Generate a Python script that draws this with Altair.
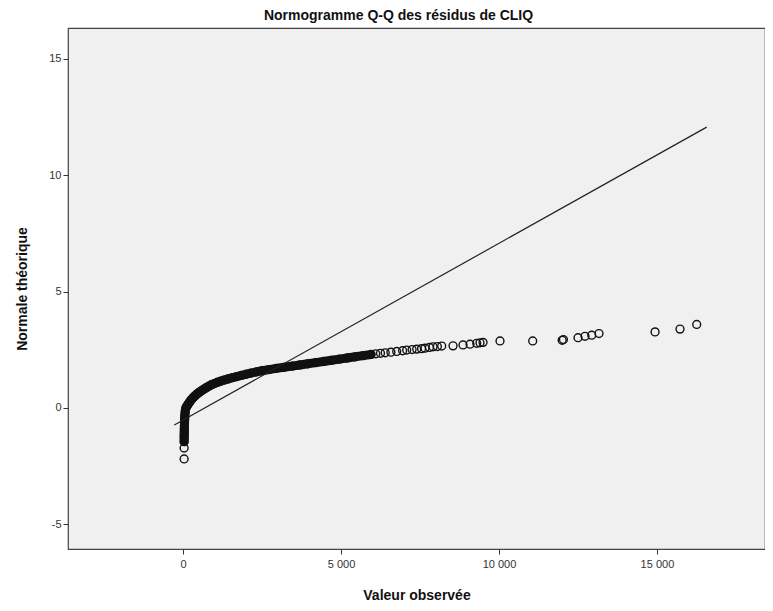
import altair as alt
import pandas as pd

# Dense part of the residual curve (observed value, theoretical normal)
band_obs = [35, 37, 38, 40, 42, 44, 47, 51, 56, 63, 72,
            90, 110, 130, 155, 180, 205, 230, 260, 290, 325, 360, 400, 440, 490,
            540, 595, 650, 710, 770, 835, 900, 990, 1080, 1190, 1300, 1430, 1560,
            1700, 1850, 2000, 2150, 2320, 2500, 2720, 2950, 3200, 3450, 3700,
            3950, 4200, 4450, 4700, 4950, 5200, 5450, 5700, 5950]
band_theo = [-1.45, -1.29, -1.16, -1.03, -0.90, -0.77, -0.64, -0.51, -0.38, -0.25, -0.12,
             0.00, 0.05, 0.10, 0.15, 0.20, 0.25, 0.30, 0.35, 0.40, 0.45, 0.50, 0.55, 0.60, 0.65,
             0.70, 0.75, 0.80, 0.85, 0.90, 0.95, 1.00, 1.05, 1.10, 1.15, 1.20, 1.25, 1.30,
             1.35, 1.40, 1.45, 1.50, 1.55, 1.60, 1.65, 1.70, 1.75, 1.80, 1.85,
             1.90, 1.95, 2.00, 2.05, 2.10, 2.15, 2.20, 2.25, 2.30]

# Separate points of the upper tail
tail_obs = [6100, 6250, 6400, 6580, 6764, 6950, 7080, 7250, 7397, 7550, 7659, 7800,
            7913, 8050, 8188, 8546, 8862, 9084, 9296, 9400, 9495, 10033, 11068,
            12000, 12040, 12502, 12723, 12936, 13166, 14940, 15730, 16259]
tail_theo = [2.33, 2.35, 2.37, 2.40, 2.43, 2.46, 2.49, 2.51, 2.53, 2.55, 2.57, 2.60,
             2.63, 2.64, 2.66, 2.67, 2.71, 2.74, 2.78, 2.80, 2.82, 2.88, 2.88,
             2.91, 2.94, 3.02, 3.08, 3.13, 3.20, 3.27, 3.39, 3.59]

# Lowest points
low_obs = [35, 35]
low_theo = [-1.72, -2.19]

# Reference line
fit_obs = [-275, 16575]
fit_theo = [-0.73, 12.07]

x_ticks = [0, 5000, 10000, 15000]
y_ticks = [-5, 0, 5, 10, 15]

band_df = pd.DataFrame({"obs": band_obs, "theo": band_theo})
pts_df = pd.DataFrame({"obs": band_obs + tail_obs + low_obs,
                       "theo": band_theo + tail_theo + low_theo})
fit_df = pd.DataFrame({"obs": fit_obs, "theo": fit_theo})

xs = alt.Scale(domain=[-3640, 18420], nice=False, zero=False)
ys = alt.Scale(domain=[-6.06, 16.33], nice=False, zero=False)

x_axis = alt.Axis(values=x_ticks, title="Valeur observée",
                  labelExpr="replace(format(datum.value, ','), ',', ' ')",
                  grid=False, domain=False, tickSize=5, tickColor="#333",
                  labelFontSize=11, labelColor="#333", labelPadding=4,
                  labelFont="Liberation Sans",
                  titleFont="Liberation Sans", titleFontSize=14, titleFontWeight="bold",
                  titleColor="#111", titlePadding=19)
y_axis = alt.Axis(values=y_ticks, title="Normale théorique", grid=False, domain=False,
                  labelExpr="datum.value < 0 ? '-' + format(-datum.value, 'd') : format(datum.value, 'd')",
                  tickSize=5, tickColor="#333", labelFontSize=11, labelColor="#333",
                  labelPadding=2, labelFont="Liberation Sans",
                  titleFont="Liberation Sans", titleFontSize=14, titleFontWeight="bold",
                  titleColor="#111", titlePadding=19)

band = alt.Chart(band_df).mark_line(strokeWidth=9, color="#111", strokeCap="round",
                                    strokeJoin="round").encode(
    x=alt.X("obs:Q", scale=xs, axis=x_axis),
    y=alt.Y("theo:Q", scale=ys, axis=y_axis),
)

points = alt.Chart(pts_df).mark_point(shape="circle", filled=False, size=62,
                                      strokeWidth=1.4, color="#111", opacity=1).encode(
    x=alt.X("obs:Q", scale=xs, axis=x_axis),
    y=alt.Y("theo:Q", scale=ys, axis=y_axis),
)

fit = alt.Chart(fit_df).mark_line(strokeWidth=1.2, color="#222").encode(
    x=alt.X("obs:Q", scale=xs, axis=x_axis),
    y=alt.Y("theo:Q", scale=ys, axis=y_axis),
)

chart = alt.layer(band, points, fit).properties(
    width=697, height=521,
    autosize=alt.AutoSizeParams(type="none"),
    padding={"left": 60, "top": 20, "right": 0, "bottom": 52},
    title=alt.TitleParams("Normogramme Q-Q des résidus de CLIQ", font="Liberation Sans",
                          fontSize=14, fontWeight="bold", color="#111",
                          anchor="middle", dx=-18, offset=5),
).configure(background="white").configure_view(
    fill="#F0F0F0", stroke="#444", strokeWidth=1.2
)

chart.save("out.html", embed_options={"renderer": "svg", "actions": False})
